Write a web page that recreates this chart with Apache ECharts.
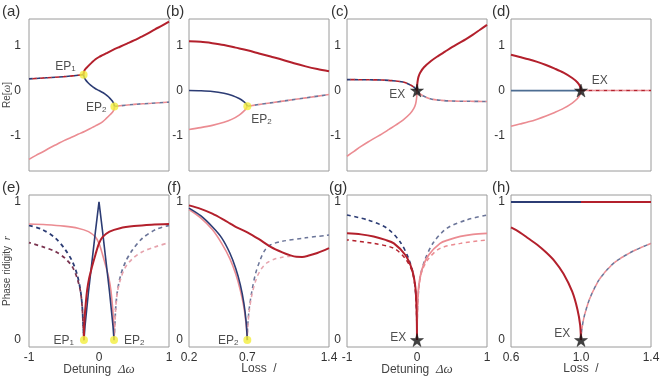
<!DOCTYPE html>
<html><head><meta charset="utf-8">
<script src="https://cdn.jsdelivr.net/npm/echarts@6/dist/echarts.min.js"></script>
<style>html,body{margin:0;padding:0;background:#fff}#c{width:661px;height:378px}</style>
</head><body><div id="c"></div>
<script>
// ---------- data ----------
// (a) Re[w] vs detuning
const aRedX = [-0.22,-0.215,-0.2,-0.165,-0.1,-0.05,0,0.05,0.1,0.2,0.3,0.4,0.5,0.6,0.7,0.8,0.9,1.0];
const aRedY = [0.355,0.42,0.47,0.53,0.63,0.70,0.75,0.79,0.83,0.91,0.98,1.05,1.12,1.20,1.28,1.37,1.45,1.54];
const aPinkX = [-1.0,-0.9,-0.8,-0.7,-0.6,-0.5,-0.4,-0.3,-0.2,-0.1,-0.05,0,0.05,0.1,0.165,0.2,0.215,0.22];
const aPinkY = [-1.54,-1.45,-1.37,-1.28,-1.20,-1.12,-1.05,-0.98,-0.91,-0.83,-0.79,-0.75,-0.70,-0.63,-0.53,-0.47,-0.42,-0.355];
const aBlueX = [-0.22,-0.21,-0.19,-0.16,-0.12,-0.06,0,0.06,0.12,0.16,0.19,0.21,0.22];
const aBlueY = [0.355,0.29,0.235,0.18,0.12,0.05,0,-0.05,-0.12,-0.18,-0.235,-0.29,-0.355];
const aDashLX = [-1,-0.75,-0.5,-0.22];
const aDashLY = [0.26,0.285,0.31,0.355];
const aDashRX = [0.22,0.5,0.75,1];
const aDashRY = [-0.355,-0.31,-0.285,-0.26];
const aEPX = [-0.22,0.22];
const aEPY = [0.355,-0.355];
// (b) Re[w] vs loss
const bRedX = [0.2,0.3,0.4,0.5,0.6,0.7,0.8,0.9,1.0,1.1,1.2,1.3,1.4];
const bRedY = [1.10,1.09,1.06,1.02,0.96,0.90,0.83,0.76,0.69,0.61,0.54,0.48,0.43];
const bBlueX = [0.2,0.3,0.4,0.5,0.57,0.63,0.67,0.69,0.7];
const bBlueY = [0,-0.005,-0.02,-0.06,-0.11,-0.18,-0.25,-0.30,-0.35];
const bPinkX = [0.2,0.3,0.4,0.5,0.57,0.63,0.67,0.69,0.7];
const bPinkY = [-0.87,-0.83,-0.78,-0.71,-0.64,-0.55,-0.46,-0.40,-0.35];
const bDashX = [0.7,1.05,1.4];
const bDashY = [-0.35,-0.22,-0.09];
const bEPX = [0.7];
const bEPY = [-0.35];
// (c)
const cRedX = [0,0.002,0.008,0.02,0.045,0.1,0.2,0.3,0.4,0.5,0.6,0.7,0.8,0.9,1.0];
const cRedY = [0,0.1,0.2,0.3,0.4,0.52,0.66,0.77,0.87,0.97,1.06,1.15,1.25,1.36,1.47];
const cPinkX = [-1.0,-0.9,-0.8,-0.7,-0.6,-0.5,-0.4,-0.3,-0.2,-0.1,-0.045,-0.02,-0.008,-0.002,0];
const cPinkY = [-1.47,-1.36,-1.25,-1.15,-1.06,-0.97,-0.87,-0.77,-0.66,-0.52,-0.4,-0.3,-0.2,-0.1,0];
const cDashLX = [-1,-0.7,-0.5,-0.35,-0.2,-0.1,-0.04,0];
const cDashLY = [0.245,0.24,0.235,0.22,0.19,0.13,0.07,0];
const cDashRX = [0,0.04,0.1,0.2,0.35,0.5,0.7,1];
const cDashRY = [0,-0.07,-0.13,-0.19,-0.22,-0.235,-0.24,-0.245];
const cEXX = [0];
const cEXY = [0];
// (d)
const dRedX = [0.6,0.65,0.7,0.75,0.8,0.85,0.9,0.95,0.98,0.995,1.0];
const dRedY = [0.80,0.75,0.70,0.64,0.57,0.49,0.40,0.28,0.18,0.09,0];
const dPinkX = [0.6,0.65,0.7,0.75,0.8,0.85,0.9,0.95,0.98,0.995,1.0];
const dPinkY = [-0.80,-0.75,-0.70,-0.64,-0.57,-0.49,-0.40,-0.28,-0.18,-0.09,0];
const dBlueX = [0.6,1.0];
const dBlueY = [0,0];
const dDashX = [1.0,1.4];
const dDashY = [0,0];
const dEXX = [1.0];
const dEXY = [0];
// (e) phase rigidity vs detuning
const eRedX = [-0.215,-0.212,-0.2,-0.19,-0.17,-0.14,-0.1,-0.05,0,0.05,0.15,0.3,0.5,0.75,1.0];
const eRedY = [0,0.1,0.2,0.26,0.36,0.45,0.53,0.62,0.70,0.745,0.785,0.81,0.825,0.835,0.84];
const ePinkX = [-1.0,-0.75,-0.5,-0.3,-0.15,-0.05,0,0.05,0.1,0.14,0.17,0.19,0.2,0.212,0.215];
const ePinkY = [0.84,0.835,0.825,0.81,0.785,0.745,0.70,0.62,0.53,0.45,0.36,0.26,0.2,0.1,0];
const eBlueX = [-0.215,-0.2,-0.15,-0.1,-0.05,0,0.05,0.1,0.15,0.2,0.215];
const eBlueY = [0,0.1,0.35,0.57,0.79,1.0,0.79,0.57,0.35,0.1,0];
const eDashNLX = [-1,-0.81,-0.62,-0.48,-0.38,-0.31,-0.262,-0.238,-0.224,-0.215];
const eDashNLY = [0.83,0.80,0.737,0.653,0.568,0.47,0.35,0.23,0.085,0];
const eDashRLX = [-1,-0.81,-0.62,-0.48,-0.38,-0.31,-0.262,-0.238,-0.224,-0.215];
const eDashRLY = [0.705,0.676,0.64,0.59,0.53,0.445,0.345,0.225,0.083,0];
const eDashNRX = [0.215,0.224,0.238,0.262,0.31,0.38,0.48,0.62,0.81,1];
const eDashNRY = [0,0.085,0.23,0.35,0.47,0.568,0.653,0.737,0.80,0.83];
const eDashPRX = [0.215,0.224,0.238,0.262,0.31,0.38,0.48,0.62,0.81,1];
const eDashPRY = [0,0.083,0.225,0.345,0.445,0.53,0.59,0.64,0.676,0.705];
const eEPX = [-0.215,0.215];
const eEPY = [0,0];
// (f) phase rigidity vs loss
const fRedX = [0.2,0.3,0.4,0.5,0.55,0.6,0.7,0.8,0.9,1.0,1.07,1.12,1.17,1.22,1.3,1.4];
const fRedY = [0.975,0.95,0.915,0.87,0.845,0.82,0.78,0.73,0.675,0.635,0.613,0.603,0.602,0.61,0.63,0.665];
const fBlueX = [0.2,0.3,0.4,0.48,0.55,0.6,0.64,0.67,0.69,0.7];
const fBlueY = [0.955,0.90,0.82,0.74,0.63,0.52,0.40,0.27,0.13,0];
const fPinkX = [0.2,0.3,0.4,0.48,0.55,0.6,0.64,0.67,0.69,0.7];
const fPinkY = [0.945,0.885,0.80,0.70,0.59,0.48,0.36,0.24,0.11,0];
const fDashNX = [0.7,0.703,0.715,0.74,0.77,0.81,0.85,0.9,1.0,1.2,1.4];
const fDashNY = [0,0.1,0.22,0.36,0.48,0.58,0.65,0.69,0.715,0.74,0.76];
const fDashPX = [0.7,0.703,0.715,0.74,0.78,0.82,0.87,0.93,1.0,1.07];
const fDashPY = [0,0.08,0.2,0.33,0.45,0.515,0.56,0.585,0.6,0.607];
const fEPX = [0.7];
const fEPY = [0];
// (g)
const gNavyLX = [-1,-0.71,-0.43,-0.24,-0.12,-0.047,-0.012,-0.003,0];
const gNavyLY = [0.905,0.87,0.81,0.71,0.59,0.46,0.29,0.15,0];
const gNavyRX = [0,0.003,0.012,0.047,0.12,0.24,0.43,0.71,1];
const gNavyRY = [0,0.15,0.29,0.46,0.59,0.71,0.81,0.87,0.905];
const gRedX = [-1,-0.8,-0.62,-0.45,-0.33,-0.167,-0.071,-0.024,-0.008,-0.002,0];
const gRedY = [0.773,0.765,0.75,0.725,0.70,0.616,0.51,0.386,0.25,0.12,0];
const gPinkX = [0,0.002,0.008,0.024,0.071,0.167,0.33,0.45,0.62,0.8,1];
const gPinkY = [0,0.12,0.25,0.386,0.51,0.616,0.70,0.725,0.75,0.765,0.773];
const gRedDashX = [-1,-0.62,-0.33,-0.167,-0.071,-0.024,-0.008,0];
const gRedDashY = [0.725,0.70,0.664,0.59,0.50,0.37,0.23,0];
const gPinkDashX = [0,0.008,0.024,0.071,0.167,0.33,0.62,1];
const gPinkDashY = [0,0.23,0.37,0.50,0.59,0.664,0.70,0.725];
const gEXX = [0];
const gEXY = [0];
// (h)
const hTopBlueX = [0.6,1.0];
const hTopBlueY = [1,1];
const hTopRedX = [1.0,1.4];
const hTopRedY = [1,1];
const hRedX = [0.6,0.65,0.7,0.75,0.8,0.85,0.9,0.95,0.98,0.995,1.0];
const hRedY = [0.815,0.78,0.735,0.69,0.635,0.57,0.48,0.35,0.22,0.11,0];
const hDashX = [1.0,1.005,1.02,1.05,1.1,1.15,1.2,1.3,1.4];
const hDashY = [0,0.08,0.18,0.30,0.43,0.51,0.57,0.645,0.70];
const hEXX = [1.0];
const hEXY = [0];
// tick labels
const topYTicks = [-1,0,1];
const botYTicks = [0,1];
const detTicks = [-1,0,1];
const lossTicksF = [0.2,0.7,1.4];
const lossTicksH = [0.6,1.0,1.4];

// ---------- styling ----------
const FONT = 'Liberation Sans';
const DR = '#b3202c', PK = '#eb8c92', NV = '#2c3c74', NVL = '#6b7599', PKL = '#e6a3ad', SB = '#4d6d92', DRD = '#7a3450';
const YEL = '#f3ee3c';
const STAR = 'path://M50,0 L61.2,34.5 L97.6,34.5 L68.2,55.9 L79.4,90.5 L50,69.1 L20.6,90.5 L31.8,55.9 L2.4,34.5 L38.8,34.5 Z';

const lefts = [29,189,347,511];
const grids = [];
for (let r=0;r<2;r++) for (let c=0;c<4;c++) grids.push({left:lefts[c], top: r===0?19:195, width:140, height:152, show:true, borderColor:'#9a9a9a', borderWidth:1, containLabel:false, outerBoundsMode:'none'});

const xr = [[-1,1],[0.2,1.4],[-1,1],[0.6,1.4],[-1,1],[0.2,1.4],[-1,1],[0.6,1.4]];
const xt = [null,null,null,null,detTicks,lossTicksF,detTicks,lossTicksH];
const xAxes = xr.map((r,i)=>({
  type:'value', gridIndex:i, min:r[0], max:r[1],
  axisLine:{show:false}, axisTick:{show:false}, splitLine:{show:false},
  axisLabel: i<4 ? {show:false} : {show:true, customValues: xt[i], color:'#333', fontFamily:FONT, fontSize:12, margin:5,
     formatter: v => (i===5||i===7) ? v.toFixed(1) : String(Math.round(v))},
  name: i===4||i===6 ? '{n|Detuning  }{i|Δω}' : (i===5||i===7 ? '{n|Loss  }{n|/}' : ''),
  nameLocation:'middle', nameGap:16, nameMoveOverlap:false,
  nameTextStyle:{rich:{n:{fontFamily:FONT,fontSize:12,color:'#444'}, i:{fontFamily:'Liberation Serif',fontStyle:'italic',fontSize:13,color:'#444'}}}
}));
const yAxes = xr.map((r,i)=>({
  type:'value', gridIndex:i, min: i<4?-1.8:-0.05, max: i<4?1.6:1.05,
  axisLine:{show:false}, axisTick:{show:false}, splitLine:{show:false},
  axisLabel:{show:true, customValues: i<4?topYTicks:botYTicks, color:'#333', fontFamily:FONT, fontSize:12, margin: (i===0||i===4)?8:6,
     formatter: v => String(Math.round(v))},
  name: i===0 ? '{n|Re[}{i|ω}{n|]}' : (i===4 ? '{n|Phase ridigity  }{i|r}' : ''),
  nameLocation:'middle', nameGap:16, nameRotate:90, nameMoveOverlap:false,
  nameTextStyle:{rich:{n:{fontFamily:FONT,fontSize:10,color:'#444'}, i:{fontFamily:'Liberation Serif',fontStyle:'italic',fontSize:11,color:'#444'}}}
}));

const series = [];
function L(g, xs, ys, color, width, dashed, offset, smooth, z){
  series.push({type:'line', xAxisIndex:g, yAxisIndex:g, data: xs.map((x,k)=>[x, ys[k]]),
    showSymbol:false, smooth: smooth===undefined?0.3:smooth, z: z||2, silent:true, animation:false,
    lineStyle:{color, width, type: dashed?[4,3.5]:'solid', dashOffset: offset||0, cap:'butt'}});
}
function P(g, xs, ys, kind, label, pos, offset){
  series.push({type:'scatter', xAxisIndex:g, yAxisIndex:g, data: xs.map((x,k)=>[x, ys[k]]),
    symbol: kind==='ep'?'circle':STAR, symbolSize: kind==='ep'?8:13, z:10, animation:false,
    itemStyle: kind==='ep' ? {color:YEL} : {color:'#111', borderColor:'#111', borderWidth:0.5},
    label:{show: !!label, formatter: label, position: pos, offset: offset||[0,0], distance:4,
      rich:{a:{fontFamily:FONT,fontSize:12,color:'#222',verticalAlign:'bottom',lineHeight:14}, s:{fontFamily:FONT,fontSize:8,color:'#222',verticalAlign:'bottom',lineHeight:10}}}
  });
}
const DW = 1.6;
// (a)
L(0,aDashLX,aDashLY,NV,DW,true,0); L(0,aDashLX,aDashLY,DR,DW,true,3.75);
L(0,aDashRX,aDashRY,NVL,DW,true,0); L(0,aDashRX,aDashRY,PK,DW,true,3.75);
L(0,aPinkX,aPinkY,PK,1.6); L(0,aBlueX,aBlueY,NV,1.6); L(0,aRedX,aRedY,DR,2,false,0,0.3,3);
P(0,[aEPX[0]],[aEPY[0]],'ep','{a|EP}{s|1}','left',[0,-9]);
P(0,[aEPX[1]],[aEPY[1]],'ep','{a|EP}{s|2}','left',[0,0]);
// (b)
L(1,bDashX,bDashY,NVL,DW,true,0); L(1,bDashX,bDashY,PK,DW,true,3.75);
L(1,bPinkX,bPinkY,PK,1.6); L(1,bBlueX,bBlueY,NV,1.6); L(1,bRedX,bRedY,DR,2);
P(1,bEPX,bEPY,'ep','{a|EP}{s|2}','right',[-4,13]);
// (c)
L(2,cDashLX,cDashLY,NV,DW,true,0); L(2,cDashLX,cDashLY,DR,DW,true,3.75);
L(2,cDashRX,cDashRY,NVL,DW,true,0); L(2,cDashRX,cDashRY,PK,DW,true,3.75);
L(2,cPinkX,cPinkY,PK,1.6); L(2,cRedX,cRedY,DR,2);
P(2,cEXX,cEXY,'ex','{a|EX}','left',[-1,3]);
// (d)
L(3,dDashX,dDashY,DR,1.6,true,0); L(3,dDashX,dDashY,PK,1.6,true,3.75);
L(3,dBlueX,dBlueY,SB,1.8,false,0,0);
L(3,dPinkX,dPinkY,PK,1.6); L(3,dRedX,dRedY,DR,2);
P(3,dEXX,dEXY,'ex','{a|EX}','right',[0,-11]);
// (e)
L(4,eDashNLX,eDashNLY,NV,1.8,true,0); L(4,eDashRLX,eDashRLY,DRD,1.8,true,2);
L(4,eDashNRX,eDashNRY,NVL,1.7,true,0); L(4,eDashPRX,eDashPRY,PKL,1.7,true,2);
L(4,ePinkX,ePinkY,PK,1.6); L(4,eBlueX,eBlueY,NV,1.6,false,0,0); L(4,eRedX,eRedY,DR,2);
P(4,[eEPX[0]],[eEPY[0]],'ep','{a|EP}{s|1}','left',[-2,0]);
P(4,[eEPX[1]],[eEPY[1]],'ep','{a|EP}{s|2}','right',[2,0]);
// (f)
L(5,fDashNX,fDashNY,NVL,1.5,true,0); L(5,fDashPX,fDashPY,PKL,1.5,true,2);
L(5,fPinkX,fPinkY,PK,1.6); L(5,fBlueX,fBlueY,NV,1.6); L(5,fRedX,fRedY,DR,2);
P(5,fEPX,fEPY,'ep','{a|EP}{s|2}','left',[-1,0]);
// (g)
L(6,gNavyLX,gNavyLY,NV,1.6,true,0); L(6,gNavyRX,gNavyRY,NVL,1.6,true,0);
L(6,gRedDashX,gRedDashY,DR,1.5,true,2); L(6,gPinkDashX,gPinkDashY,PK,1.5,true,2);
L(6,gPinkX,gPinkY,PK,1.8); L(6,gRedX,gRedY,DR,2);
P(6,gEXX,gEXY,'ex','{a|EX}','left',[0,-3]);
// (h)
L(7,hDashX,hDashY,NVL,1.5,true,0); L(7,hDashX,hDashY,PK,1.5,true,3.75);
L(7,hTopBlueX,hTopBlueY,NV,2,false,0,0); L(7,hTopRedX,hTopRedY,DR,2,false,0,0);
L(7,hRedX,hRedY,DR,2);
P(7,hEXX,hEXY,'ex','{a|EX}','left',[0,-7]);

const letters = [['(a)',2,4],['(b)',166,4],['(c)',331,4],['(d)',492,4],['(e)',2,180],['(f)',167,180],['(g)',329,180],['(h)',492,180]];
const graphic = letters.map(l=>({type:'text', left:l[1], top:l[2], style:{text:l[0], font:'15px "Liberation Sans"', fill:'#333'}}));

const chart = echarts.init(document.getElementById('c'), null, {renderer:'canvas'});
chart.setOption({backgroundColor:'#fff', animation:false, grid:grids, xAxis:xAxes, yAxis:yAxes, series, graphic});
</script></body></html>
